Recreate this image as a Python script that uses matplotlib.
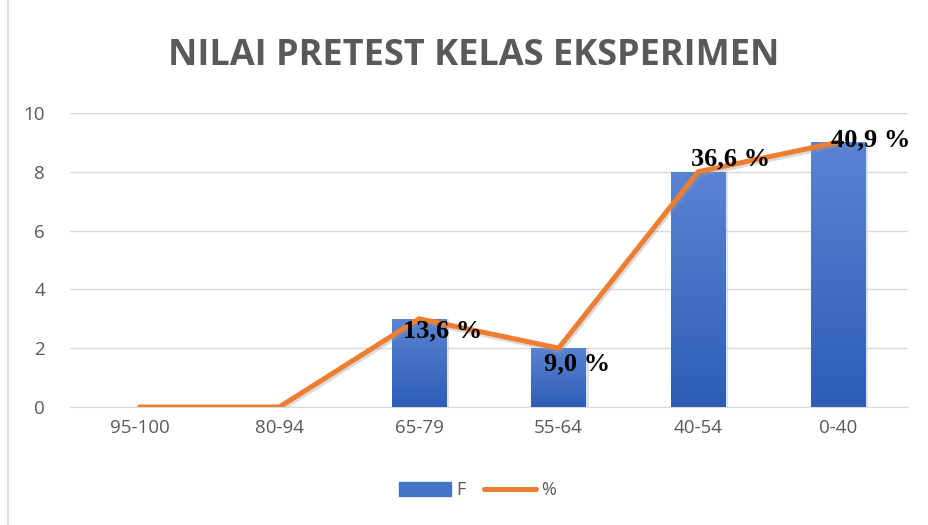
import numpy as np
import matplotlib
matplotlib.use("Agg")
import matplotlib.pyplot as plt
from matplotlib.lines import Line2D
from matplotlib.patches import Rectangle

# data
categories = ['95-100', '80-94', '65-79', '55-64', '40-54', '0-40']
freq = [0, 0, 3, 2, 8, 9]
pct_line = [0, 0, 3, 2, 8, 9]
pct_labels = ['', '', '13,6 %', '9,0 %', '36,6 %', '40,9 %']
y_ticks = [0, 2, 4, 6, 8, 10]

fig = plt.figure(figsize=(9.29, 5.25), dpi=100)
ax = fig.add_axes([0.0753, 0.2248, 0.9017, 0.5602])

x = np.arange(len(categories))
bars = ax.bar(x, freq, width=0.39, color='#4472c4', zorder=2)

# vertical gradient on bars (lighter at top)
grad = np.linspace(0, 1, 256).reshape(-1, 1)
cmap = matplotlib.colors.LinearSegmentedColormap.from_list('b', ['#2e5db6', '#5a84d2'])
for b in bars:
    if b.get_height() <= 0:
        continue
    x0, w, h = b.get_x(), b.get_width(), b.get_height()
    im = ax.imshow(grad, cmap=cmap, origin='lower', aspect='auto',
                   extent=[x0, x0 + w, 0, h], zorder=2.1)
    im.set_clip_path(b)
    # soft shadow
    ax.add_patch(Rectangle((x0 + 0.02, 0), w, h, color='#bbbbbb', alpha=0.4, zorder=1.9, lw=0))

# shadow of the line, then the line
ax.plot(x + 0.01, np.array(pct_line) - 0.08, color='#999999', lw=3.8, alpha=0.35,
        zorder=2.5, solid_capstyle='round', solid_joinstyle='miter')
ax.plot(x, pct_line, color='#ed7d31', lw=3.6, zorder=3, solid_capstyle='round',
        solid_joinstyle='miter')

offsets = {2: (17, -9), 3: (13, -11), 4: (23, 9), 5: (24, 2)}
for i, lab in enumerate(pct_labels):
    if not lab:
        continue
    ax.annotate(lab, (x[i], pct_line[i]), xytext=offsets[i], textcoords='offset points',
                ha='center', va='center', fontsize=19, fontweight='bold',
                family='Liberation Serif', color='black', zorder=5)

ax.set_xlim(-0.5, len(categories) - 0.5)
ax.set_ylim(0, 10)
ax.set_yticks(y_ticks)
ax.set_xticks(x)
ax.set_xticklabels(categories)
ax.tick_params(axis='both', length=0, labelsize=13.5, labelcolor='#595959')
ax.tick_params(axis='y', pad=18)
ax.tick_params(axis='x', pad=9)
for lab in ax.get_xticklabels() + ax.get_yticklabels():
    lab.set_family('Open Sans')
ax.grid(axis='y', color='#d9d9d9', lw=1, zorder=0)
for s in ['top', 'right', 'left']:
    ax.spines[s].set_visible(False)
ax.spines['bottom'].set_color('#d9d9d9')
ax.spines['bottom'].set_zorder(1)

fig.text(0.510, 0.893, 'NILAI PRETEST KELAS EKSPERIMEN', ha='center', va='center',
         fontsize=26, fontweight='bold', color='#595959', family='Open Sans')

handles = [Rectangle((0, 0), 1, 1, color='#4472c4'),
           Line2D([0], [0], color='#ed7d31', lw=3.6, solid_capstyle='round')]
leg = fig.legend(handles, ['F', '%'], loc='center', bbox_to_anchor=(0.514, 0.066), ncol=2,
                 frameon=False, handlelength=2.9, handleheight=0.8,
                 columnspacing=1.0, handletextpad=0.3,
                 prop={'family': 'Open Sans', 'size': 13})
for t in leg.get_texts():
    t.set_color('#595959')

fig.add_artist(Line2D([8 / 929, 8 / 929], [0, 1], color='#d9d9d9', lw=1.2))

fig.savefig('out.png', dpi=100)
